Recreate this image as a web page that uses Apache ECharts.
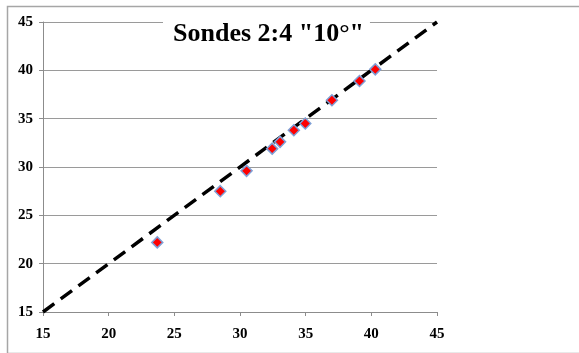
<!DOCTYPE html>
<html>
<head>
<meta charset="utf-8">
<script src="https://cdn.jsdelivr.net/npm/echarts@6/dist/echarts.min.js"></script>
<style>html,body{margin:0;padding:0;background:#fff}#c{width:579px;height:353px}</style>
</head>
<body>
<div id="c"></div>
<script>
var titleText = 'Sondes 2:4 "10°"';
var xValues = [23.7, 28.5, 30.5, 32.45, 33.05, 34.1, 34.97, 37.0, 39.1, 40.3];
var yValues = [22.2, 27.5, 29.6, 31.9, 32.6, 33.8, 34.5, 36.9, 38.9, 40.1];
var refLine = [[15, 15], [45, 45]];
var axisMin = 15, axisMax = 45, axisStep = 5;

var pts = xValues.map(function (x, i) { return [x, yValues[i]]; });
var chart = echarts.init(document.getElementById('c'), null, {renderer: 'canvas'});
var labelFont = {fontFamily: 'Liberation Serif', fontWeight: 'bold', fontSize: 15, color: '#000'};
chart.setOption({
  animation: false,
  backgroundColor: '#fff',
  graphic: [{
    type: 'rect', left: 5, top: 4, z: -10, silent: true,
    shape: {x: 0, y: 0, width: 600, height: 347},
    style: {fill: 'none', stroke: '#a6a6a6', lineWidth: 1.5}
  }],
  title: {
    text: titleText,
    left: 163, top: 19,
    backgroundColor: '#fff',
    padding: [2, 6, 2, 10],
    textStyle: {fontFamily: 'Liberation Serif', fontWeight: 'bold', fontSize: 26, color: '#000'}
  },
  grid: {left: 43, right: 142, top: 22, bottom: 41},
  xAxis: {
    type: 'value', min: axisMin, max: axisMax, interval: axisStep,
    axisLine: {lineStyle: {color: '#8c8c8c', width: 1}},
    axisTick: {show: true, inside: false, length: 4, lineStyle: {color: '#8c8c8c'}},
    axisLabel: Object.assign({margin: 15}, labelFont),
    splitLine: {show: false}
  },
  yAxis: {
    type: 'value', min: axisMin, max: axisMax, interval: axisStep,
    axisLine: {show: true, lineStyle: {color: '#8c8c8c', width: 1}},
    axisTick: {show: true, inside: false, length: 4, lineStyle: {color: '#8c8c8c'}},
    axisLabel: Object.assign({margin: 10}, labelFont),
    splitLine: {show: true, lineStyle: {color: '#9a9a9a', width: 1}}
  },
  series: [{
    type: 'line', data: refLine, symbol: 'none', z: 2,
    lineStyle: {color: '#000', width: 3.5, type: [14, 8]}
  }, {
    type: 'scatter', data: pts, symbol: 'diamond', symbolSize: 11, z: 3,
    itemStyle: {color: '#ff0000', borderColor: '#7f9fd6', borderWidth: 1.5, opacity: 1}
  }]
});
</script>
</body>
</html>
